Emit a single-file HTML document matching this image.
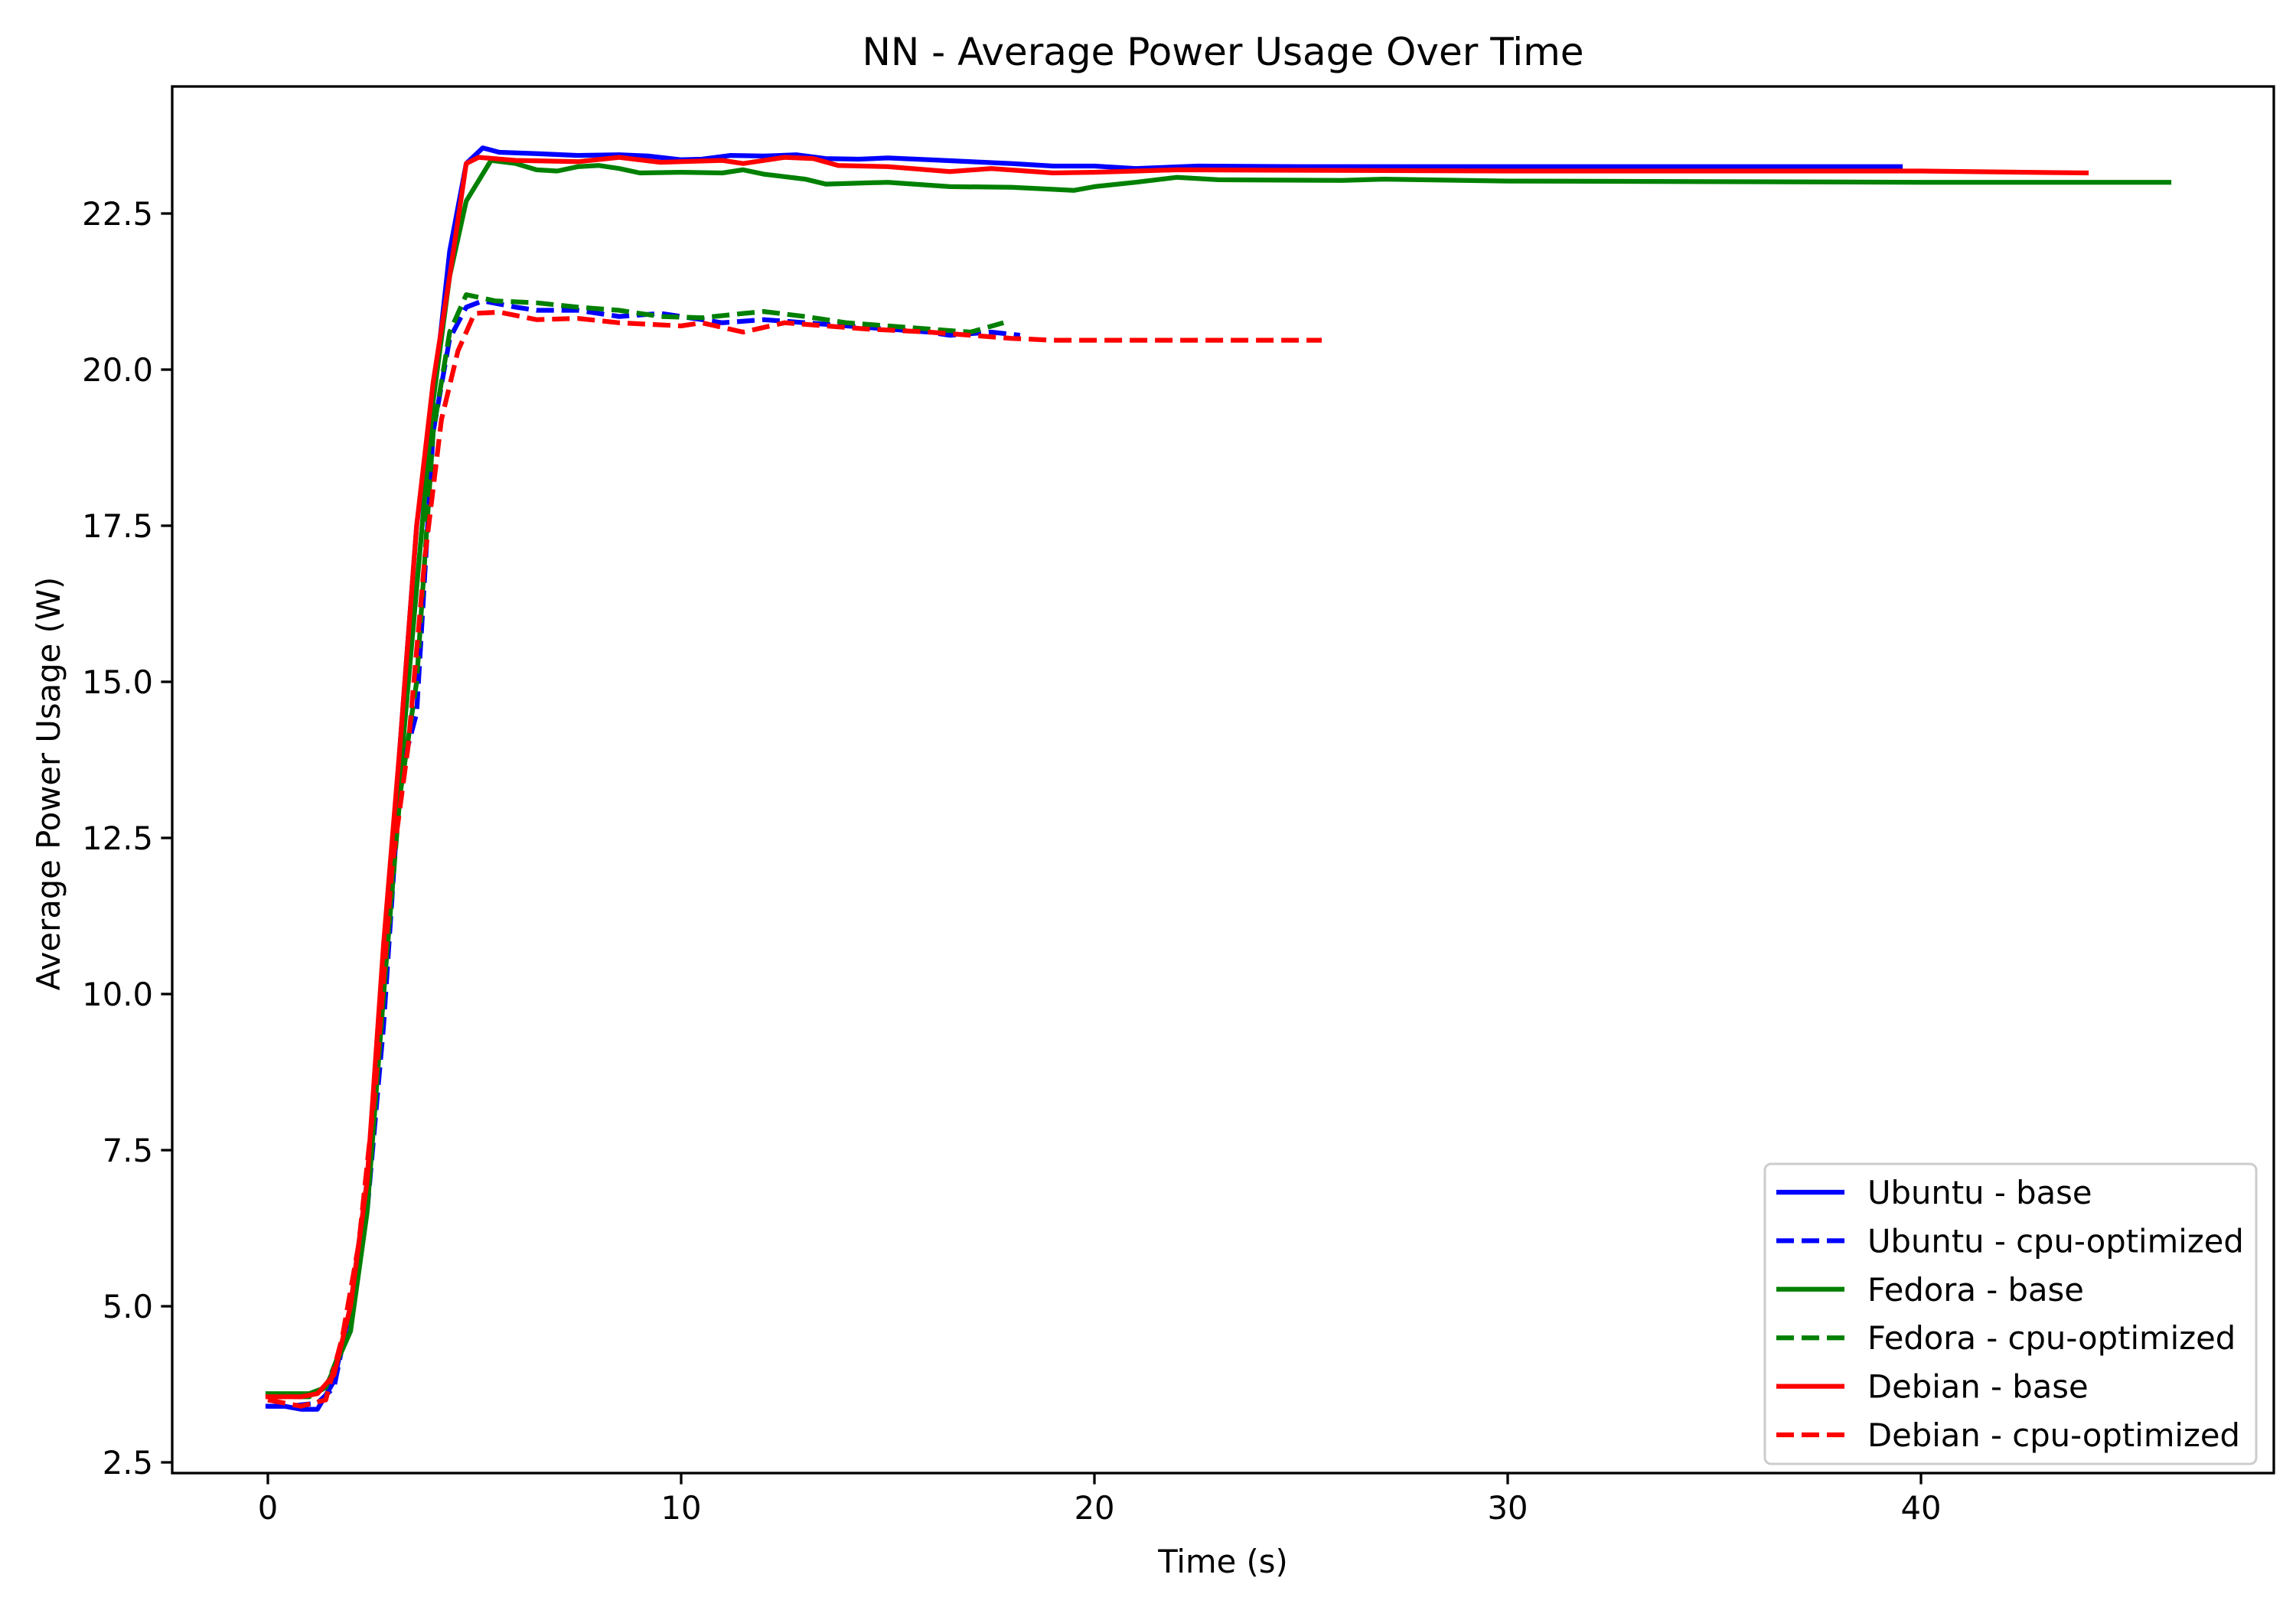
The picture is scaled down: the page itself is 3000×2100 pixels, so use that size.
<!DOCTYPE html>
<html><head><meta charset="utf-8"><style>
html,body{margin:0;padding:0;background:#fff}
svg{display:block}
text{font-family:"DejaVu Sans","Liberation Sans",sans-serif;fill:#000}
</style></head><body>
<svg id="chart" width="3000" height="2100" viewBox="0 0 3000 2100" xmlns="http://www.w3.org/2000/svg">
<rect width="3000" height="2100" fill="#fff"/>
<text x="1598" y="85" font-size="50" text-anchor="middle">NN - Average Power Usage Over Time</text>
<g id="plot"></g>
<g id="axes"></g>
<text x="1598" y="2055" font-size="41.7" text-anchor="middle">Time (s)</text>
<text transform="translate(78,1024) rotate(-90)" font-size="41.7" text-anchor="middle">Average Power Usage (W)</text>
<g id="legend"></g>
</svg>
<script>
const xTicks=[0,10,20,30,40];
const yTicks=[2.5,5.0,7.5,10.0,12.5,15.0,17.5,20.0,22.5];
const seriesNames=["Ubuntu - base","Ubuntu - cpu-optimized","Fedora - base","Fedora - cpu-optimized","Debian - base","Debian - cpu-optimized"];
const seriesColors=["#0000ff","#0000ff","#008000","#008000","#ff0000","#ff0000"];
const seriesDashed=[false,true,false,true,false,true];
const ubuntuBaseT=[0,0.4,0.8,1.2,1.6,2.0,2.4,2.8,3.2,3.6,4.0,4.4,4.8,5.2,5.6,6.5,7.5,8.5,9.2,10,10.5,11.2,12,12.8,13.5,14.3,15,16,17,18,19,20,21,22.5,25,30,35,39.5];
const ubuntuBaseV=[3.4,3.4,3.35,3.35,3.8,5.0,7.0,10.5,14,17.5,19.5,21.9,23.3,23.55,23.48,23.46,23.43,23.44,23.42,23.36,23.37,23.43,23.42,23.44,23.38,23.37,23.39,23.36,23.33,23.3,23.26,23.26,23.22,23.26,23.25,23.25,23.25,23.25];
const ubuntuCpuT=[0,0.5,1.2,1.6,2,2.4,2.8,3.2,3.6,4,4.4,4.8,5.2,6,6.5,7.5,8.5,9.5,10,11,12,13,14,15,16,16.5,17.5,18.2];
const ubuntuCpuV=[3.4,3.4,3.45,3.7,5,6.5,9.5,13.5,14.5,19,20.5,21.0,21.1,21.0,20.95,20.95,20.85,20.9,20.85,20.75,20.8,20.75,20.7,20.65,20.6,20.55,20.6,20.55];
const fedoraBaseT=[0,1.0,1.4,2,2.4,2.8,3.2,3.6,4,4.4,4.8,5.4,6,6.5,7,7.5,8,8.5,9,10,11,11.5,12,13,13.5,15,16.5,18,19.5,20,21,22,23,26,27,30,35,40,46];
const fedoraBaseV=[3.6,3.6,3.7,4.6,6.5,10,13.5,16.5,19.5,21.5,22.7,23.35,23.3,23.2,23.18,23.25,23.27,23.22,23.15,23.16,23.15,23.2,23.13,23.05,22.97,23.0,22.93,22.92,22.87,22.93,23.0,23.08,23.04,23.03,23.05,23.02,23.01,23.0,23.0];
const fedoraCpuT=[0,1.0,1.4,2,2.4,2.8,3.2,3.6,4,4.4,4.8,5.5,6.5,7.5,8.5,9.5,10.5,11.5,12,13,14,15,16,17,17.8];
const fedoraCpuV=[3.55,3.55,3.7,4.7,6.6,10,13.2,15,19,20.6,21.2,21.1,21.07,21.0,20.95,20.85,20.83,20.9,20.93,20.85,20.75,20.7,20.65,20.6,20.75];
const debianBaseT=[0,0.8,1.2,1.6,2.0,2.4,2.8,3.2,3.6,4.0,4.4,4.8,5.1,6,7.5,8.5,9.5,11,11.5,12.5,13.2,13.8,15,16.5,17.5,19,20,21,22,30,35,40,44];
const debianBaseV=[3.55,3.55,3.6,3.9,5.0,7.0,10.8,14,17.5,19.8,21.5,23.3,23.4,23.35,23.33,23.4,23.32,23.35,23.3,23.4,23.38,23.27,23.25,23.17,23.22,23.15,23.16,23.18,23.2,23.18,23.18,23.18,23.15];
const debianCpuT=[0,0.8,1.4,1.8,2.2,2.6,3.0,3.4,3.8,4.2,4.6,5,5.6,6.5,7.5,8.5,10,10.5,11.5,12.5,13.5,14.5,16,17,18,19,22,25.5];
const debianCpuV=[3.5,3.4,3.5,4.5,6.0,8.5,12,14,17,19.2,20.3,20.9,20.92,20.8,20.82,20.75,20.7,20.75,20.6,20.75,20.7,20.65,20.6,20.55,20.5,20.47,20.47,20.47];
const seriesT=[ubuntuBaseT,ubuntuCpuT,fedoraBaseT,fedoraCpuT,debianBaseT,debianCpuT];
const seriesV=[ubuntuBaseV,ubuntuCpuV,fedoraBaseV,fedoraCpuV,debianBaseV,debianCpuV];

const NS="http://www.w3.org/2000/svg";
const L=225,R=2971,T=113,B=1925;
function xs(t){return 350+t*54;}
function ys(v){return 1911-(v-2.5)*81.6;}
function mk(tag,attrs,parent){const e=document.createElementNS(NS,tag);for(const k in attrs)e.setAttribute(k,attrs[k]);parent.appendChild(e);return e;}
const plot=document.getElementById('plot');
const axes=document.getElementById('axes');
const legend=document.getElementById('legend');
for(let s=0;s<seriesNames.length;s++){
  const pts=seriesT[s].map((t,i)=>xs(t).toFixed(1)+','+ys(seriesV[s][i]).toFixed(1)).join(' ');
  const pl=mk('polyline',{points:pts,fill:'none',stroke:seriesColors[s],'stroke-width':6.25,'stroke-linejoin':'round','stroke-linecap':seriesDashed[s]?'butt':'square'},plot);
  if(seriesDashed[s])pl.setAttribute('stroke-dasharray','23 10');
  
  
}
const frame=mk('rect',{x:L,y:T,width:R-L,height:B-T,fill:'none',stroke:'#000','stroke-width':3.3},axes);


xTicks.forEach(t=>{
  const x=xs(t);
  const tk=mk('line',{x1:x,x2:x,y1:B,y2:B+14.6,stroke:'#000','stroke-width':3.3},axes);
  
  
  const lb=mk('text',{x:x,y:B+60,'font-size':41.7,'text-anchor':'middle'},axes);
  lb.textContent=String(t);
  
  
});
yTicks.forEach(v=>{
  const y=ys(v);
  const tk=mk('line',{x1:L-14.6,x2:L,y1:y,y2:y,stroke:'#000','stroke-width':3.3},axes);
  
  
  const lb=mk('text',{x:L-25,y:y+15,'font-size':41.7,'text-anchor':'end'},axes);
  lb.textContent=v.toFixed(1);
  
  
});
const lbox=mk('rect',{x:2306,y:1521,width:642,height:392,rx:8,fill:'#fff','fill-opacity':0.8,stroke:'#ccc','stroke-width':3},legend);


seriesNames.forEach((n,i)=>{
  const y=1558+i*63.4;
  const g=mk('g',{},legend);
  
  
  const ln=mk('line',{x1:2321,x2:2410,y1:y,y2:y,stroke:seriesColors[i],'stroke-width':6.25},g);
  if(seriesDashed[i])ln.setAttribute('stroke-dasharray','23 10');
  const tx=mk('text',{x:2440,y:y+15,'font-size':41.7},g);
  tx.textContent=n;
});
</script>
</body></html>
